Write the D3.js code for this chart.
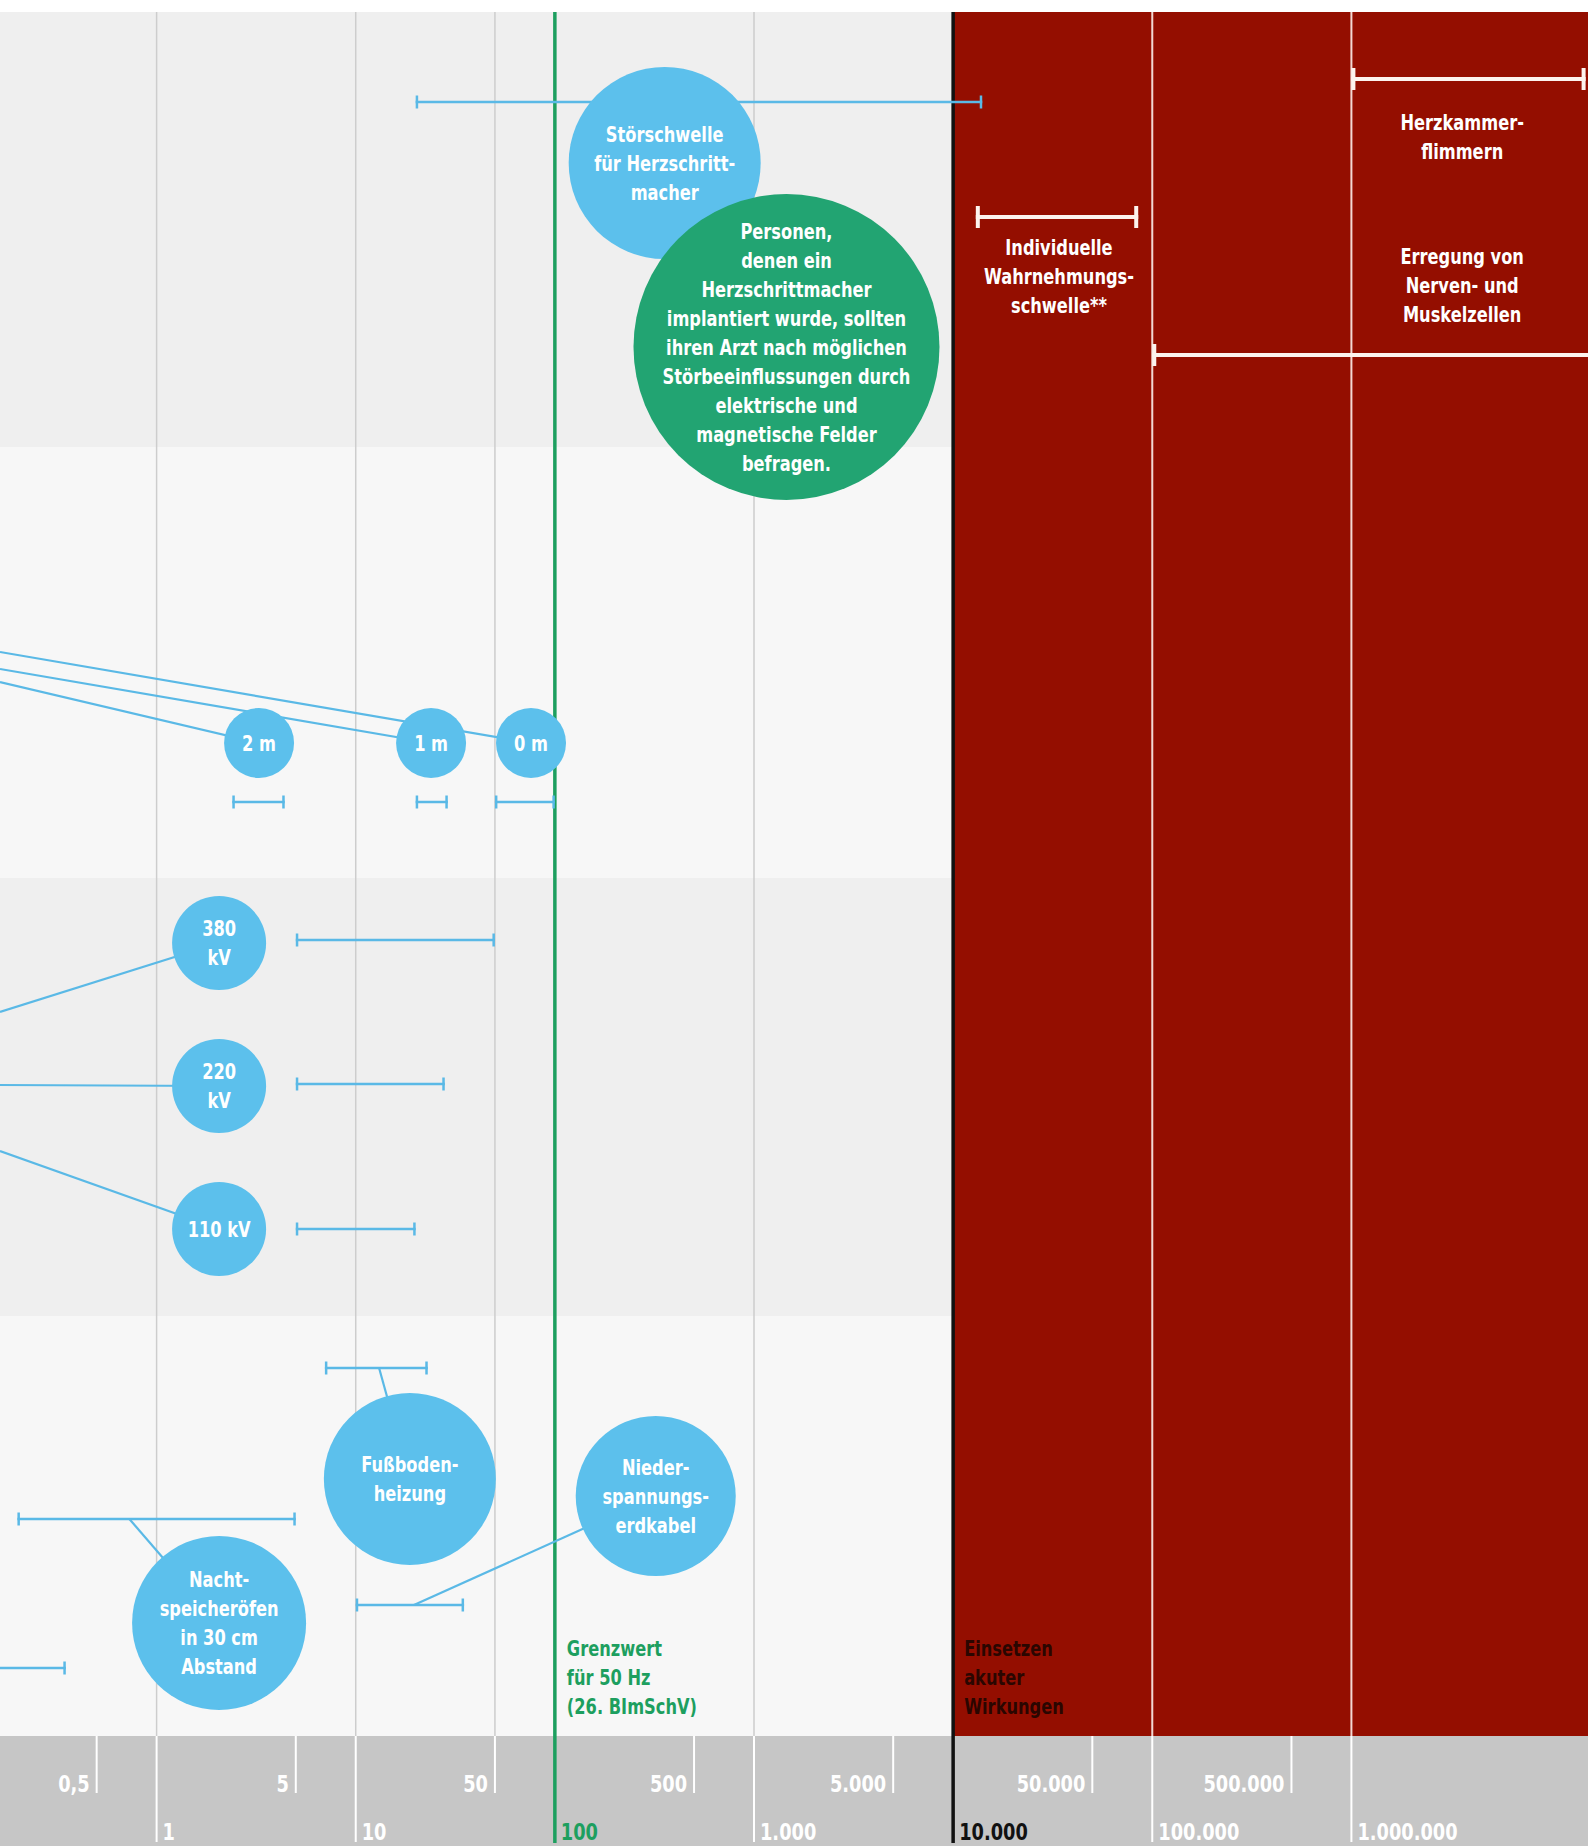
<!DOCTYPE html>
<html>
<head>
<meta charset="utf-8">
<script src="https://cdn.jsdelivr.net/npm/d3@7"></script>
<style>
  html, body { margin: 0; padding: 0; background: #fff; }
  svg { display: block; }
  text { font-family: "Liberation Sans Narrow", "DejaVu Sans Condensed", "Arial Narrow", sans-serif; }
</style>
</head>
<body>
<svg id="chart"></svg>
<script>
'use strict';

// Axis ticks (magnetic flux density, log scale)
var majorTicks = [1, 10, 100, 1000, 10000, 100000, 1000000];
var majorLabels = ['1', '10', '100', '1.000', '10.000', '100.000', '1.000.000'];
var minorTicks = [0.5, 5, 50, 500, 5000, 50000, 500000];
var minorLabels = ['0,5', '5', '50', '500', '5.000', '50.000', '500.000'];
var gridTicks = [1, 10, 50, 1000, 100000, 1000000];
var limitValue = 100;      // Grenzwert für 50 Hz
var acuteValue = 10000;    // Einsetzen akuter Wirkungen

// Ranges (min / max)
var rangeNames = ['stoer', 'herzkammer', 'wahrnehmung', 'erregung',
  'abstand2', 'abstand1', 'abstand0', 'kv380', 'kv220', 'kv110',
  'nacht', 'fussboden', 'erdkabel', 'links'];
var rangeMin = [20, 1000000, 13000, 100000, 2.4, 20, 50, 5, 5, 5, 0.2, 7, 10, 0.01];
var rangeMax = [14000, 15000000, 85000, 100000000, 4.4, 29, 100, 50, 28, 20, 5, 23, 35, 0.35];

// Bubble texts and where they sit on the value axis
var bubbleNames = ['stoer', 'personen', 'abstand2', 'abstand1', 'abstand0',
  'kv380', 'kv220', 'kv110', 'fussboden', 'erdkabel', 'nacht'];
var bubbleTexts = [
  ['Störschwelle', 'für Herzschritt-', 'macher'],
  ['Personen,', 'denen ein', 'Herzschrittmacher', 'implantiert wurde, sollten',
    'ihren Arzt nach möglichen', 'Störbeeinflussungen durch', 'elektrische und',
    'magnetische Felder', 'befragen.'],
  ['2 m'], ['1 m'], ['0 m'],
  ['380', 'kV'], ['220', 'kV'], ['110 kV'],
  ['Fußboden-', 'heizung'],
  ['Nieder-', 'spannungs-', 'erdkabel'],
  ['Nacht-', 'speicheröfen', 'in 30 cm', 'Abstand']];
var bubbleValue = [356, 1456, 3.27, 23.9, 75.9, 2.06, 2.06, 2.06, 18.7, 321, 2.06];

// Labels in the red zone
var redLabelTexts = [
  ['Herzkammer-', 'flimmern'],
  ['Individuelle', 'Wahrnehmungs-', 'schwelle**'],
  ['Erregung von', 'Nerven- und', 'Muskelzellen']];
var redLabelValue = [3600000, 34000, 3600000];

// ---- layout (pixels) -------------------------------------------------
var W = 1588, H = 1846;
var TOP = 12, AXIS_TOP = 1736;
var BANDS = [12, 447, 878, 1316, 1736];
var BAND_COLORS = ['#efefef', '#f7f7f7', '#efefef', '#f7f7f7'];
var BLUE = '#5cc0ec', GREEN = '#22a472', LINE_GREEN = '#1d9f5f', RED = '#940e00';
var FONT = 21, LINE_H = 29, SQUEEZE = 0.86, AXIS_FONT = 23;

var rangeLayout = {
  stoer:       { y: 102,  kind: 'blue' },
  herzkammer:  { y: 79,   kind: 'white' },
  wahrnehmung: { y: 217,  kind: 'white' },
  erregung:    { y: 355,  kind: 'white', noEnd: true },
  abstand2:    { y: 802,  kind: 'blue' },
  abstand1:    { y: 802,  kind: 'blue' },
  abstand0:    { y: 802,  kind: 'blue' },
  kv380:       { y: 940,  kind: 'blue' },
  kv220:       { y: 1084, kind: 'blue' },
  kv110:       { y: 1229, kind: 'blue' },
  nacht:       { y: 1519, kind: 'blue' },
  fussboden:   { y: 1368, kind: 'blue' },
  erdkabel:    { y: 1605, kind: 'blue' },
  links:       { y: 1668, kind: 'blue', noStart: true }
};

var bubbleLayout = {
  stoer:     { cy: 163,  r: 96,  fill: BLUE },
  personen:  { cy: 347,  r: 153, fill: GREEN },
  abstand2:  { cy: 743,  r: 35,  fill: BLUE },
  abstand1:  { cy: 743,  r: 35,  fill: BLUE },
  abstand0:  { cy: 743,  r: 35,  fill: BLUE },
  kv380:     { cy: 943,  r: 47,  fill: BLUE },
  kv220:     { cy: 1086, r: 47,  fill: BLUE },
  kv110:     { cy: 1229, r: 47,  fill: BLUE },
  fussboden: { cy: 1479, r: 86,  fill: BLUE },
  erdkabel:  { cy: 1496, r: 80,  fill: BLUE },
  nacht:     { cy: 1623, r: 87,  fill: BLUE }
};

// Leader lines: from the left edge (y) or from a point on a range (value) to a bubble
var leaders = [
  { fromY: 652, to: 'abstand0' },
  { fromY: 669, to: 'abstand1' },
  { fromY: 682, to: 'abstand2' },
  { fromY: 1012, to: 'kv380' },
  { fromY: 1085, to: 'kv220' },
  { fromY: 1151, to: 'kv110' },
  { fromValue: 0.73, range: 'nacht', to: 'nacht' },
  { fromValue: 13.1, range: 'fussboden', to: 'fussboden' },
  { fromValue: 19.6, range: 'erdkabel', to: 'erdkabel' }
];

var redLabelY = [122, 247, 256];

// ---- drawing ---------------------------------------------------------
var x = d3.scaleLog().domain([1, 1000000]).range([156.6, 1351.4]);

var svg = d3.select('#chart').attr('width', W).attr('height', H);

// Row bands
svg.append('g').selectAll('rect')
  .data(BAND_COLORS)
  .join('rect')
  .attr('x', 0)
  .attr('y', function(d, i) { return BANDS[i]; })
  .attr('width', W)
  .attr('height', function(d, i) { return BANDS[i + 1] - BANDS[i]; })
  .attr('fill', function(d) { return d; });

// Red zone for acute effects
svg.append('rect')
  .attr('x', x(acuteValue)).attr('y', TOP)
  .attr('width', W - x(acuteValue)).attr('height', AXIS_TOP - TOP)
  .attr('fill', RED);

// Axis band
svg.append('rect')
  .attr('x', 0).attr('y', AXIS_TOP)
  .attr('width', W).attr('height', H - AXIS_TOP)
  .attr('fill', '#c6c6c6');

// Grid lines in the plot
svg.append('g').selectAll('line')
  .data(gridTicks)
  .join('line')
  .attr('x1', function(d) { return x(d); })
  .attr('x2', function(d) { return x(d); })
  .attr('y1', TOP).attr('y2', AXIS_TOP)
  .attr('stroke', function(d) { return d > acuteValue ? '#f2d8d2' : '#cdcdcd'; })
  .attr('stroke-width', function(d) { return d > acuteValue ? 2 : 1.5; });

// Axis: long lines with labels for the decades, short ones for the halves
var axis = svg.append('g').attr('class', 'axis');
axis.selectAll('line.major')
  .data(majorTicks.filter(function(d) { return d !== limitValue && d !== acuteValue; }))
  .join('line')
  .attr('class', 'major')
  .attr('x1', function(d) { return x(d); })
  .attr('x2', function(d) { return x(d); })
  .attr('y1', AXIS_TOP).attr('y2', H - 4)
  .attr('stroke', '#fff').attr('stroke-width', 2);

axis.selectAll('line.minor')
  .data(minorTicks)
  .join('line')
  .attr('class', 'minor')
  .attr('x1', function(d) { return x(d); })
  .attr('x2', function(d) { return x(d); })
  .attr('y1', AXIS_TOP).attr('y2', 1793)
  .attr('stroke', '#fff').attr('stroke-width', 2);

axis.selectAll('text.minor')
  .data(minorTicks)
  .join('text')
  .attr('class', 'minor')
  .attr('transform', function(d) {
    return 'translate(' + (x(d) - 7) + ',1792) scale(' + SQUEEZE + ',1)';
  })
  .attr('text-anchor', 'end')
  .attr('font-size', AXIS_FONT)
  .attr('font-weight', 'bold')
  .attr('fill', '#fff')
  .text(function(d, i) { return minorLabels[i]; });

axis.selectAll('text.major')
  .data(majorTicks)
  .join('text')
  .attr('class', 'major')
  .attr('transform', function(d) {
    return 'translate(' + (x(d) + 6) + ',1840) scale(' + SQUEEZE + ',1)';
  })
  .attr('font-size', AXIS_FONT)
  .attr('font-weight', 'bold')
  .attr('fill', function(d) {
    if (d === limitValue) return LINE_GREEN;
    if (d === acuteValue) return '#111';
    return '#fff';
  })
  .text(function(d, i) { return majorLabels[i]; });

// Limit line (green) and acute-effects line (black)
svg.append('line')
  .attr('x1', x(limitValue)).attr('x2', x(limitValue))
  .attr('y1', TOP).attr('y2', H - 3)
  .attr('stroke', LINE_GREEN).attr('stroke-width', 3.5);

svg.append('line')
  .attr('x1', x(acuteValue)).attr('x2', x(acuteValue))
  .attr('y1', TOP).attr('y2', H - 3)
  .attr('stroke', '#111').attr('stroke-width', 3.5);

// Multi-line text helper, narrowed to mimic a condensed face
function addLines(g, lines, cx, cy, opts) {
  var size = opts.size || FONT;
  var t = g.append('text')
    .attr('transform', 'translate(' + cx + ',0) scale(' + SQUEEZE + ',1)')
    .attr('text-anchor', opts.anchor || 'middle')
    .attr('font-size', size)
    .attr('font-weight', 'bold')
    .attr('fill', opts.fill || '#fff');
  var first = cy - (lines.length - 1) * LINE_H / 2;
  lines.forEach(function(s, i) {
    t.append('tspan')
      .attr('x', 0)
      .attr('y', first + i * LINE_H + size * 0.36)
      .text(s);
  });
  return t;
}

// Ranges
var rangeG = svg.append('g').attr('class', 'ranges');
rangeNames.forEach(function(name, i) {
  var lay = rangeLayout[name];
  var white = lay.kind === 'white';
  var x1 = x(rangeMin[i]), x2 = Math.min(x(rangeMax[i]), W + 10);
  var color = white ? '#fdf3ee' : '#5ab9e6';
  var sw = white ? 4 : 2.5;
  var capH = white ? 22 : 13;
  var capW = white ? 4 : 2.5;
  rangeG.append('line')
    .attr('x1', x1).attr('x2', x2)
    .attr('y1', lay.y).attr('y2', lay.y)
    .attr('stroke', color).attr('stroke-width', sw);
  if (!lay.noStart) {
    rangeG.append('line')
      .attr('x1', x1 + capW / 2).attr('x2', x1 + capW / 2)
      .attr('y1', lay.y - capH / 2).attr('y2', lay.y + capH / 2)
      .attr('stroke', color).attr('stroke-width', capW);
  }
  if (!lay.noEnd) {
    rangeG.append('line')
      .attr('x1', x2 - capW / 2).attr('x2', x2 - capW / 2)
      .attr('y1', lay.y - capH / 2).attr('y2', lay.y + capH / 2)
      .attr('stroke', color).attr('stroke-width', capW);
  }
});

// Leader lines
var leaderG = svg.append('g').attr('class', 'leaders');
leaders.forEach(function(l) {
  var bi = bubbleNames.indexOf(l.to);
  var bx = x(bubbleValue[bi]), by = bubbleLayout[l.to].cy;
  var sx = 0, sy = l.fromY;
  if (l.range) {
    sx = x(l.fromValue);
    sy = rangeLayout[l.range].y;
  }
  leaderG.append('line')
    .attr('x1', sx).attr('y1', sy)
    .attr('x2', bx).attr('y2', by)
    .attr('stroke', '#5ab9e6').attr('stroke-width', 2.2);
});

// Bubbles
var bubbleG = svg.append('g').attr('class', 'bubbles');
bubbleNames.forEach(function(name, i) {
  var lay = bubbleLayout[name];
  var cx = x(bubbleValue[i]);
  var g = bubbleG.append('g');
  g.append('circle')
    .attr('cx', cx).attr('cy', lay.cy).attr('r', lay.r)
    .attr('fill', lay.fill);
  addLines(g, bubbleTexts[i], cx, lay.cy, {});
});

// Labels inside the red zone
var redG = svg.append('g').attr('class', 'red-labels');
redLabelTexts.forEach(function(lines, i) {
  addLines(redG, lines, x(redLabelValue[i]), redLabelY[i] + (lines.length - 1) * LINE_H / 2, {});
});

// Annotations next to the two vertical lines
addLines(svg, ['Grenzwert', 'für 50 Hz', '(26. BImSchV)'],
  x(limitValue) + 12, 1677, { anchor: 'start', fill: LINE_GREEN });
addLines(svg, ['Einsetzen', 'akuter', 'Wirkungen'],
  x(acuteValue) + 11, 1677, { anchor: 'start', fill: '#2a0600' });
</script>
</body>
</html>
